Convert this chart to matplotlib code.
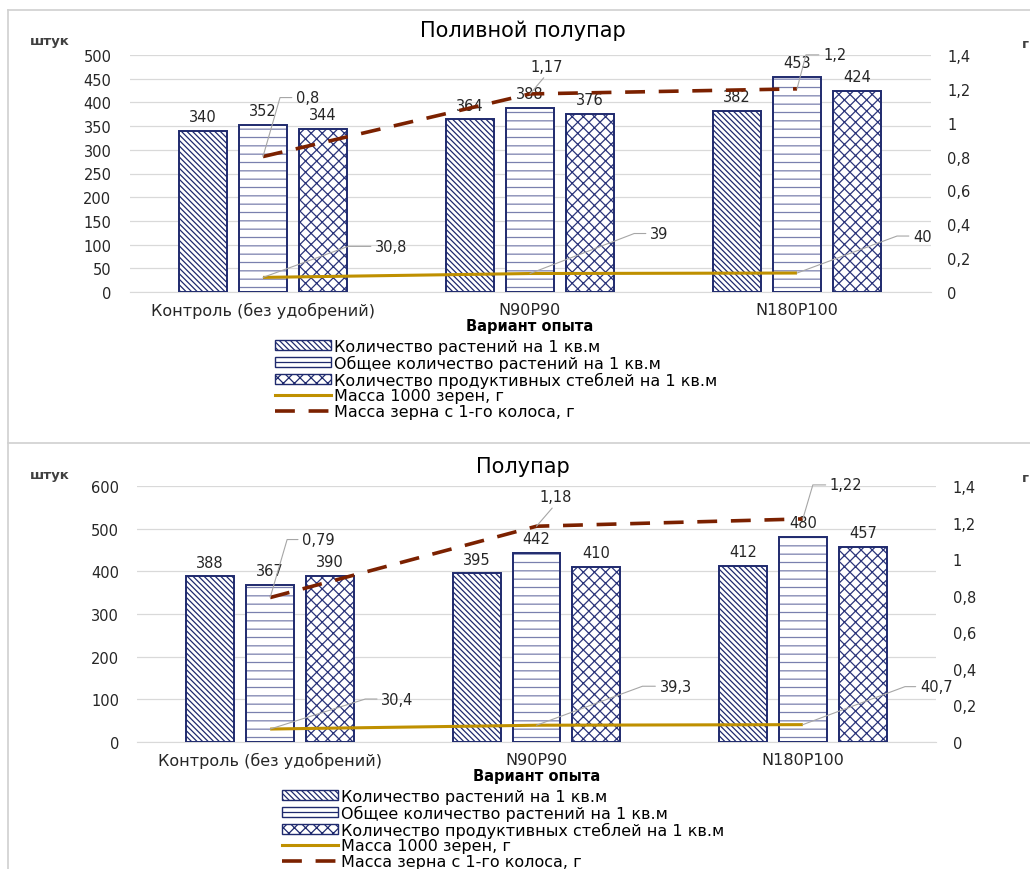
import matplotlib
matplotlib.use('Agg')
import math
import numpy as np
import matplotlib.pyplot as plt
from matplotlib.patches import Patch
from matplotlib.lines import Line2D

categories = ['Контроль (без удобрений)', 'N90P90', 'N180P100']

# Поливной полупар
top_plants = [340, 364, 382]
top_total = [352, 388, 453]
top_stems = [344, 376, 424]
top_mass1000 = [30.8, 39, 40]
top_mass_ear = [0.8, 1.17, 1.2]

# Полупар
bot_plants = [388, 395, 412]
bot_total = [367, 442, 480]
bot_stems = [390, 410, 457]
bot_mass1000 = [30.4, 39.3, 40.7]
bot_mass_ear = [0.79, 1.18, 1.22]

series_names = ['Количество растений на 1 кв.м',
                'Общее количество растений на 1 кв.м',
                'Количество продуктивных стеблей на 1 кв.м',
                'Масса 1000 зерен, г',
                'Масса зерна с 1-го колоса, г']

NAVY = '#1F2A6E'
HATCH_COLORS = ['#1F2A6E', '#7A80AE', '#2A347A']
HATCHES = ['\\\\\\\\\\\\', '--', 'xxx']
GOLD = '#BF9000'
RED = '#7B2100'
GRID = '#D9D9D9'
LEADER = '#A6A6A6'
TXT = '#262626'

W, H = 1030, 870
plt.rcParams['hatch.linewidth'] = 0.9
plt.rcParams['font.family'] = 'DejaVu Sans'

fig = plt.figure(figsize=(W / 100, H / 100), dpi=100)


def rect(x0, y0, x1, y1):
    return [x0 / W, 1 - y1 / H, (x1 - x0) / W, (y1 - y0) / H]


def fmt(v):
    return ('%g' % v).replace('.', ',')


def leader_label(ax, xi, v, text, dx, dy, h=16, side=True):
    k = 0.72  # px -> pt
    if side:
        ang = math.degrees(math.atan2(dy, dx - h))
        ax.annotate(text, xy=(xi, v), xytext=(dx * k, dy * k), textcoords='offset points',
                    ha='left', va='center', fontsize=10.5, color=TXT, zorder=6,
                    arrowprops=dict(arrowstyle='-', color=LEADER, lw=0.8, shrinkA=1, shrinkB=0,
                                    relpos=(0, 0.5),
                                    connectionstyle='angle,angleA=0,angleB=%.1f,rad=0' % ang))
    else:
        ax.annotate(text, xy=(xi, v), xytext=(dx * k, dy * k), textcoords='offset points',
                    ha='center', va='bottom', fontsize=10.5, color=TXT, zorder=6,
                    arrowprops=dict(arrowstyle='-', color=LEADER, lw=0.8, shrinkA=1, shrinkB=0,
                                    relpos=(0.5, 0)))


def panel(box, title, title_y, units_y, plants, total, stems, mass1000, mass_ear,
          ymax, ystep, label_pos, legend_xy):
    ax = fig.add_axes(rect(*box))
    x = np.arange(len(categories))
    width = 0.18
    offsets = [-0.225, 0, 0.225]
    for vals, off, hatch, hc in zip([plants, total, stems], offsets, HATCHES, HATCH_COLORS):
        ax.bar(x + off, vals, width, facecolor='white', edgecolor=hc, hatch=hatch,
               linewidth=0, zorder=2)
        bars = ax.bar(x + off, vals, width, facecolor='none', edgecolor=NAVY,
                      linewidth=1.4, zorder=3)
        ax.bar_label(bars, labels=[str(v) for v in vals], padding=5, fontsize=10.5,
                     color=TXT)

    ax.plot(x, mass1000, color=GOLD, lw=2.2, zorder=4, solid_capstyle='butt')

    ax.set_xlim(-0.5, 2.5)
    ax.set_ylim(0, ymax)
    ax.set_yticks(np.arange(0, ymax + 1, ystep))
    ax.set_xticks(x)
    ax.set_xticklabels(categories, fontsize=11.5, color=TXT)
    ax.tick_params(axis='x', length=0, pad=7)
    ax.tick_params(axis='y', length=0, pad=13, labelsize=10.5, labelcolor=TXT)
    ax.grid(axis='y', color=GRID, lw=0.9, zorder=0)
    ax.set_axisbelow(True)
    for s in ['top', 'right', 'left']:
        ax.spines[s].set_visible(False)
    ax.spines['bottom'].set_color(GRID)
    ax.set_xlabel('Вариант опыта', fontsize=10.5, fontweight='bold', labelpad=0)

    ax2 = ax.twinx()
    ax2.plot(x, mass_ear, color=RED, lw=2.6, dashes=(5.5, 3.8), zorder=5)
    ax2.set_ylim(0, 1.4)
    rticks = np.arange(0, 1.41, 0.2)
    ax2.set_yticks(rticks)
    ax2.set_yticklabels([fmt(round(t, 1)) for t in rticks])
    ax2.tick_params(axis='y', length=0, pad=12, labelsize=10.5, labelcolor=TXT)
    for s in ax2.spines.values():
        s.set_visible(False)

    for i in range(len(categories)):
        dx, dy, h, side = label_pos['ear'][i]
        leader_label(ax2, x[i], mass_ear[i], fmt(mass_ear[i]), dx, dy, h, side)
        dx, dy, h = label_pos['m1000'][i]
        leader_label(ax, x[i], mass1000[i], fmt(mass1000[i]), dx, dy, h, True)

    fig.text(523 / W, 1 - title_y / H, title, ha='center', va='center', fontsize=15,
             color='#000000')
    fig.text(30 / W, 1 - units_y / H, 'штук', ha='left', va='center', fontsize=9.5,
             fontweight='bold', color='#404040')
    fig.text(1022 / W, 1 - (units_y + 4) / H, 'г', ha='left', va='center', fontsize=9.5,
             fontweight='bold', color='#404040')

    handles = [Patch(facecolor='white', edgecolor=NAVY, hatch=HATCHES[0], lw=1),
               Patch(facecolor='white', edgecolor=NAVY, hatch=HATCHES[1], lw=1),
               Patch(facecolor='white', edgecolor=NAVY, hatch=HATCHES[2], lw=1),
               Line2D([], [], color=GOLD, lw=2.2),
               Line2D([], [], color=RED, lw=2.6, dashes=(5.5, 3.8))]
    fig.legend(handles, series_names, loc='upper left',
               bbox_to_anchor=(legend_xy[0] / W, 1 - legend_xy[1] / H),
               frameon=False, fontsize=11.5, handlelength=3.5, handleheight=0.6,
               handletextpad=0.2, labelspacing=0.04, borderpad=0, borderaxespad=0)


panel((129.5, 56, 930.5, 293), 'Поливной полупар', 31, 41,
      top_plants, top_total, top_stems, top_mass1000, top_mass_ear, 500, 50,
      {'ear': [(33, 59, 16, True), (17, 20, 0, False), (26, 34, 17, True)],
       'm1000': [(112, 31, 27), (120, 40, 16), (116, 37, 16)]},
      (275, 340))

panel((137, 487, 936, 743), 'Полупар', 467, 475,
      bot_plants, bot_total, bot_stems, bot_mass1000, bot_mass_ear, 600, 100,
      {'ear': [(32, 58, 15, True), (19, 22, 0, False), (27, 34, 17, True)],
       'm1000': [(111, 30, 16), (123, 39, 17), (117, 38, 15)]},
      (282, 790))

# рамки двух диаграмм
for seg in [((8, 8), (11, 870)), ((8, 1030), (11, 11)), ((8, 1030), (444, 444))]:
    fig.add_artist(Line2D([p / W for p in seg[0]], [1 - p / H for p in seg[1]],
                          color='#D0D0D0', lw=1.2))

fig.savefig('out.png', dpi=100)
